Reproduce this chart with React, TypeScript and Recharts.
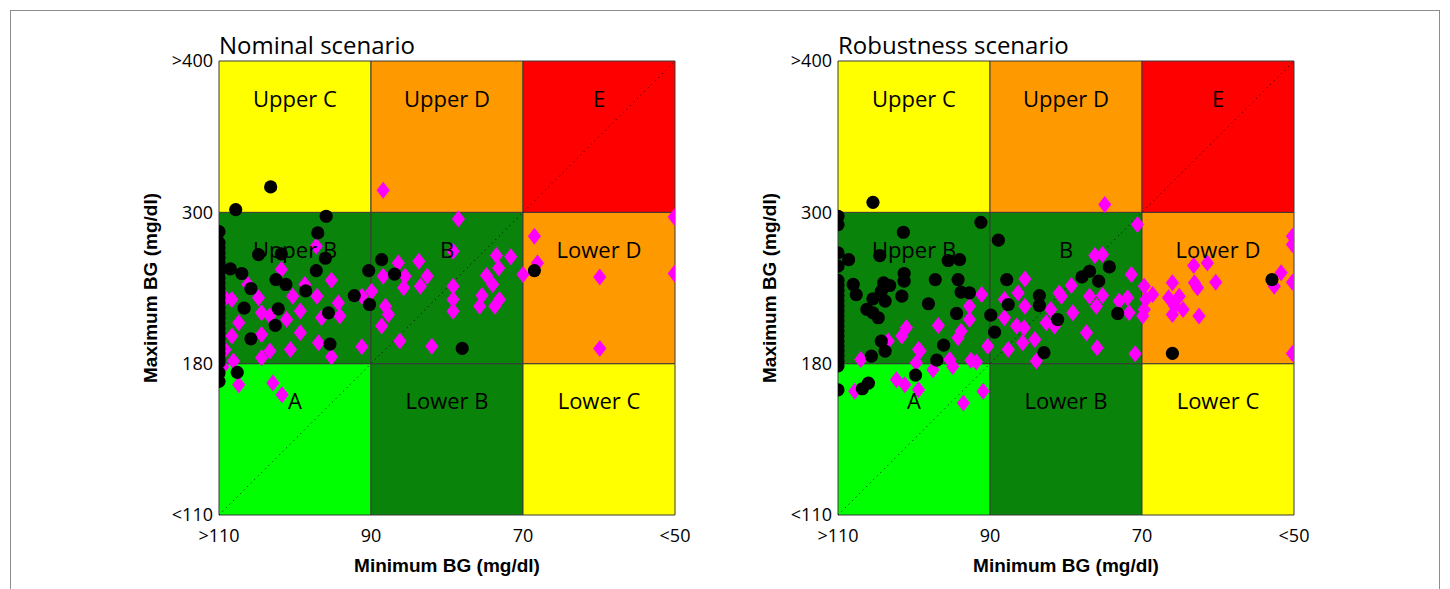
import React from "react";
import { ScatterChart, Scatter, XAxis, YAxis, ReferenceArea, ReferenceLine } from "recharts";

// ---------- axis definitions ----------
const xTickValues = [110, 90, 70, 50];
const xTickLabels = [">110", "90", "70", "<50"];
const yTickValues = [110, 180, 300, 400];
const yTickLabels = ["<110", "180", "300", ">400"];

// ---------- zones (Minimum BG range, Maximum BG range) ----------
const zoneNames = ["A", "Lower B", "Lower C", "Upper B", "B", "Lower D", "Upper C", "Upper D", "E"];
const zoneColors = ["#00ff00", "#0a830a", "#ffff00", "#0a830a", "#0a830a", "#ff9900", "#ffff00", "#ff9900", "#ff0000"];
const zoneMinBG: [number, number][] = [[110, 90], [90, 70], [70, 50], [110, 90], [90, 70], [70, 50], [110, 90], [90, 70], [70, 50]];
const zoneMaxBG: [number, number][] = [[110, 180], [110, 180], [110, 180], [180, 300], [180, 300], [180, 300], [300, 400], [300, 400], [300, 400]];

// ---------- data: [Minimum BG, Maximum BG] in mg/dl ----------
const nominalCircles: [number, number][] = [
  [103.2, 316.8], [107.8, 301.8], [95.9, 296.9], [97.0, 283.7], [104.8, 266.5], [101.8, 267], [96.0, 263.6],
  [97.2, 253.8], [108.5, 255.2], [107.0, 251.5], [102.5, 246.7], [101.2, 242.8], [105.8, 239.6], [98.6, 237.7],
  [90.3, 253.8], [88.6, 262.5], [86.9, 251], [92.2, 234], [90.2, 226.9], [106.7, 224], [102.2, 223.5],
  [95.6, 220.3], [102.6, 210.3], [105.8, 199.7], [95.4, 195.5], [107.6, 176], [68.5, 253.8], [78.0, 192.1],
  [110, 284.7], [110, 276], [110, 272], [110, 268], [110, 264], [110, 260], [110, 256], [110, 252], [110, 248],
  [110, 244], [110, 240], [110, 236], [110, 232], [110, 228], [110, 224], [110, 220], [110, 216], [110, 212],
  [110, 208], [110, 204], [110, 200], [110, 196], [110, 192], [110, 188], [110, 184], [110, 181], [110, 175.7],
  [110, 171.8],
];

const nominalDiamonds: [number, number][] = [
  [88.4, 314.6], [97.2, 273.1], [101.8, 254.6], [95.2, 246.2], [106.2, 242.8], [104.8, 232.2], [100.3, 233.5],
  [98.7, 242.8], [97.1, 233.5], [94.3, 228.2], [104.4, 220.3], [103.3, 217.7], [101.1, 215], [99.3, 221.7],
  [96.5, 216.4], [94.1, 217.7], [108.3, 230.9], [107.4, 212.4], [108.3, 201.9], [104.4, 203.2], [99.3, 204.5],
  [96.9, 196.6], [100.6, 191.3], [103.3, 190], [104.4, 184.7], [95.2, 185.5], [91.2, 193.4], [108.1, 182.1],
  [107.4, 170.2], [102.9, 171], [101.7, 165.6], [89.9, 237.5], [91.2, 233.5], [88.4, 249.4], [86.4, 259.9],
  [85.5, 249.4], [85.7, 240.1], [83.7, 261.2], [82.6, 249.4], [83.5, 241.4], [88.1, 225.6], [87.7, 219],
  [88.6, 209.8], [86.2, 197.9], [82.0, 193.9], [78.5, 294.7], [79.2, 269.1], [73.5, 265.7], [71.6, 264.7],
  [73.2, 255.9], [74.8, 249.9], [74.0, 242.8], [79.2, 241.4], [75.4, 234.0], [79.2, 230.9], [73.1, 230.9],
  [75.7, 225.6], [73.7, 225.6], [79.2, 221.6], [68.5, 281.0], [68.1, 259.9], [70.0, 250.7], [59.9, 248.8],
  [50.1, 296.3], [50.1, 251.5], [59.9, 192.1], [109.2, 232], [109.2, 191], [109.5, 178.5],
];

const robustCircles: [number, number][] = [
  [105.4, 306.6], [110, 296.9], [110, 290.3], [101.4, 284.2], [91.2, 292.1], [88.9, 277.9], [110, 267.8],
  [108.6, 262.5], [110, 257.3], [104.5, 265.7], [95.5, 261.8], [94.0, 262.5], [101.3, 251.5], [101.3, 245.4],
  [97.2, 246.7], [94.2, 246.7], [108.0, 242.8], [107.6, 234.8], [104.0, 244.1], [103.2, 242], [104.3, 237.5],
  [101.6, 233.5], [93.8, 236.7], [92.7, 236.2], [105.4, 231.4], [103.8, 229.6], [98.1, 227.5], [106.2, 223],
  [105.4, 220.3], [104.7, 216.4], [94.4, 219.8], [89.9, 218.5], [87.8, 246.7], [87.6, 226.9], [89.4, 205],
  [104.3, 197.9], [103.8, 190], [105.6, 186], [96.1, 194.7], [97.0, 182.8], [99.8, 174.7], [106.0, 171],
  [106.8, 168.4], [110, 167.9], [83.5, 234], [83.5, 226.1], [81.1, 215], [82.9, 188.7], [74.3, 256.7],
  [76.9, 253.3], [77.9, 248.8], [75.7, 245.4], [73.2, 219.8], [66.0, 188.1], [52.9, 246.7],
  [110, 246], [110, 242], [110, 238], [110, 234], [110, 230], [110, 226], [110, 222], [110, 218], [110, 214],
  [110, 210], [110, 206], [110, 202], [110, 198], [110, 194], [110, 190], [110, 186], [110, 182], [110, 179],
];

const robustDiamonds: [number, number][] = [
  [85.4, 247.2], [91.1, 234.8], [86.3, 236.1], [88.1, 230.9], [85.4, 225.6], [92.7, 225.6], [88.1, 216.4],
  [86.5, 209.8], [85.5, 208.5], [84.1, 199.2], [85.7, 196.6], [87.6, 191.3], [83.9, 182.1], [80.9, 236.1],
  [82.0, 223], [82.6, 212.4], [81.5, 209.8], [96.8, 210.3], [93.8, 205.8], [94.2, 200.5], [92.7, 215],
  [101.0, 208.4], [101.6, 201.9], [90.3, 193.9], [99.4, 191.3], [99.7, 180.7], [97.5, 177.2], [95.3, 183.4],
  [94.9, 178.7], [92.5, 182.8], [91.8, 181.3], [107.0, 183.4], [102.3, 172.6], [101.2, 170.2], [99.4, 167.9],
  [107.8, 167.2], [90.9, 167.2], [93.5, 161.8], [103.4, 197.9], [99.2, 190],
  [74.9, 305.1], [70.6, 290.3], [76.2, 265.7], [75.2, 266.5], [71.4, 250.7], [79.3, 242], [76.9, 233.5],
  [75.2, 234], [76.0, 225.6], [79.1, 220.3], [73.0, 229.6], [71.9, 232.2], [71.7, 220.3], [69.7, 241.4],
  [69.5, 230.9], [68.6, 234.8], [69.7, 223], [69.9, 217.7], [77.3, 204.5], [75.9, 192.6], [70.9, 187.9],
  [80.6, 233.5], [66.0, 244.1], [63.2, 257.8], [61.4, 259.9], [63.1, 244.1], [62.7, 240.1], [60.3, 244.6],
  [66.5, 232.2], [65.1, 233.5], [65.7, 225.6], [64.6, 223], [66.0, 219], [62.5, 217.7], [51.7, 252],
  [50.2, 281], [50.2, 274.4], [50.2, 244.6], [52.6, 241.4], [50.2, 188.1],
];

// Maximum BG axis is piecewise: each band (<110-180, 180-300, 300->400) has equal height
const toGrid = (v: number) => {
  for (let i = 0; i < yTickValues.length - 1; i++) {
    const a = yTickValues[i];
    const b = yTickValues[i + 1];
    if (v <= b || i === yTickValues.length - 2) return i + (v - a) / (b - a);
  }
  return 0;
};

const toPoints = (arr: [number, number][]) => arr.map(([mn, mx]) => ({ x: mn, y: toGrid(mx) }));

const FONT = "'Open Sans', 'Noto Sans', sans-serif";
const BOLD = "'Liberation Sans', Arial, sans-serif";

const CircleShape = (p: any) => <circle cx={p.cx} cy={p.cy} r={6.6} fill="#000" />;
const DiamondShape = (p: any) => (
  <polygon
    points={`${p.cx},${p.cy - 8.5} ${p.cx + 6.6},${p.cy} ${p.cx},${p.cy + 8.5} ${p.cx - 6.6},${p.cy}`}
    fill="#ff00ff"
  />
);

function Panel({ circles, diamonds, left }: { circles: [number, number][]; diamonds: [number, number][]; left: number }) {
  return (
    <div style={{ position: "absolute", left, top: 0 }}>
      <ScatterChart width={700} height={589} margin={{ top: 61, right: 25, bottom: 34, left: 139 }}>
        <XAxis
          type="number"
          dataKey="x"
          domain={[50, 110]}
          reversed
          ticks={xTickValues}
          interval={0}
          tickFormatter={(v: number) => xTickLabels[xTickValues.indexOf(v)]}
          axisLine={false}
          tickLine={false}
          tickSize={0}
          tickMargin={14}
          height={40}
          allowDataOverflow
          tick={{ fill: "#000", fontSize: 18, fontFamily: FONT }}
        />
        <YAxis
          type="number"
          dataKey="y"
          domain={[0, 3]}
          ticks={[0, 1, 2, 3]}
          interval={0}
          tickFormatter={(v: number) => yTickLabels[v]}
          axisLine={false}
          tickLine={false}
          tickSize={0}
          tickMargin={6}
          width={80}
          allowDataOverflow
          tick={{ fill: "#000", fontSize: 18, fontFamily: FONT }}
        />
        {zoneNames.map((name, i) => (
          <ReferenceArea
            key={name}
            x1={zoneMinBG[i][0]}
            x2={zoneMinBG[i][1]}
            y1={toGrid(zoneMaxBG[i][0])}
            y2={toGrid(zoneMaxBG[i][1])}
            fill={zoneColors[i]}
            fillOpacity={1}
            stroke="#3a3a3a"
            strokeWidth={1}
            label={{ value: name, position: "insideTop", offset: 30, fill: "#000", fontSize: 22, fontFamily: FONT }}
          />
        ))}
        <ReferenceLine
          segment={[{ x: 110, y: 0 }, { x: 50, y: 3 }]}
          stroke="#000"
          strokeWidth={1}
          strokeDasharray="1 4"
        />
        <Scatter data={toPoints(diamonds)} shape={DiamondShape} isAnimationActive={false} />
        <Scatter data={toPoints(circles)} shape={CircleShape} isAnimationActive={false} />
      </ScatterChart>
    </div>
  );
}

export default function App() {
  return (
    <div style={{ position: "absolute", left: 0, top: 0, width: 1450, height: 589, overflow: "hidden", background: "#fff" }}>
      <div style={{ position: "absolute", left: 10, top: 10, width: 1428, height: 700, border: "1px solid #8c8c8c" }} />
      <Panel circles={nominalCircles} diamonds={nominalDiamonds} left={0} />
      <Panel circles={robustCircles} diamonds={robustDiamonds} left={619} />
      <svg width={1450} height={589} style={{ position: "absolute", left: 0, top: 0, pointerEvents: "none" }}>
        <text x={219} y={54} fontSize={24} fontFamily={FONT} fill="#000">Nominal scenario</text>
        <text x={838} y={54} fontSize={24} fontFamily={FONT} fill="#000">Robustness scenario</text>
        <text x={447} y={572} fontSize={19} fontWeight="bold" fontFamily={BOLD} fill="#000" textAnchor="middle">Minimum BG (mg/dl)</text>
        <text x={1066} y={572} fontSize={19} fontWeight="bold" fontFamily={BOLD} fill="#000" textAnchor="middle">Minimum BG (mg/dl)</text>
        <text x={157} y={288} fontSize={19} fontWeight="bold" fontFamily={BOLD} fill="#000" textAnchor="middle" transform="rotate(-90 157 288)">Maximum BG (mg/dl)</text>
        <text x={776} y={288} fontSize={19} fontWeight="bold" fontFamily={BOLD} fill="#000" textAnchor="middle" transform="rotate(-90 776 288)">Maximum BG (mg/dl)</text>
      </svg>
    </div>
  );
}
